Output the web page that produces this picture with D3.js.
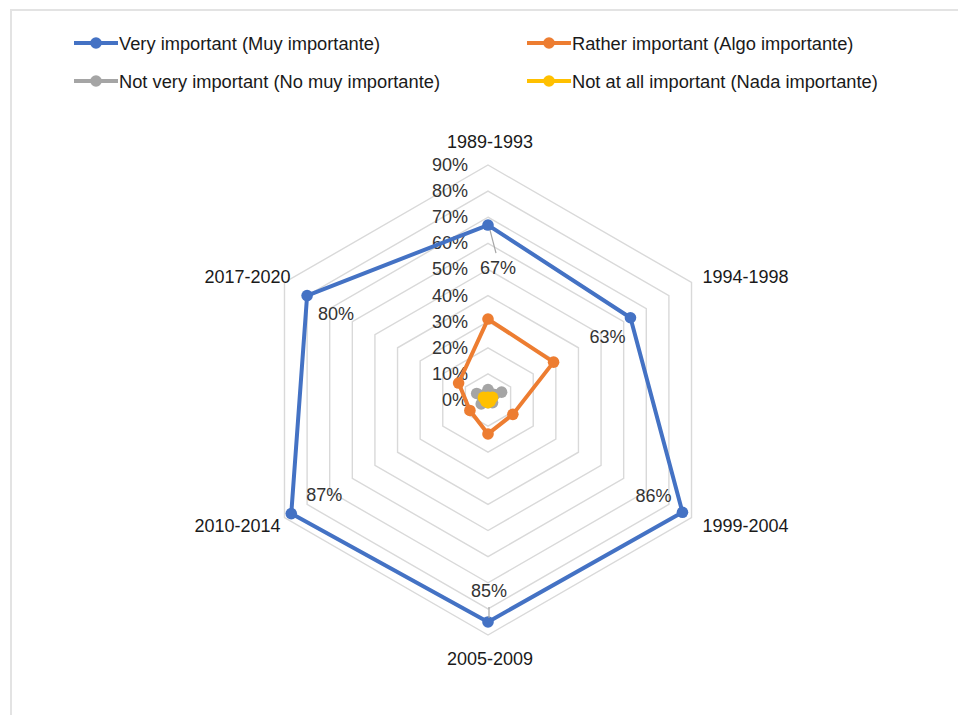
<!DOCTYPE html>
<html>
<head>
<meta charset="utf-8">
<script src="https://cdn.jsdelivr.net/npm/d3@7/dist/d3.min.js"></script>
<style>
  html, body { margin: 0; padding: 0; background: #fff; }
  svg { display: block; font-family: "Liberation Sans", Arial, sans-serif; }
</style>
</head>
<body>
<svg id="chart" width="958" height="715"></svg>
<script>
// ---- data ----
const categories = ["1989-1993", "1994-1998", "1999-2004", "2005-2009", "2010-2014", "2017-2020"];
const seriesNames = [
  "Very important (Muy importante)",
  "Rather important (Algo importante)",
  "Not very important (No muy importante)",
  "Not at all important (Nada importante)"
];
const veryImportant = [67, 63, 86, 85, 87, 80];
const ratherImportant = [31, 29, 11, 13, 8, 13];
const notVeryImportant = [4, 6, 2, 1, 3, 5];
const notAtAllImportant = [1, 2, 1, 1, 1, 2];
const tickValues = [0, 10, 20, 30, 40, 50, 60, 70, 80, 90];
const tickLabels = ["0%", "10%", "20%", "30%", "40%", "50%", "60%", "70%", "80%", "90%"];
const seriesColors = ["#4472C4", "#ED7D31", "#A5A5A5", "#FFC000"];

// ---- layout ----
const svg = d3.select("#chart");
const cx = 488, cy = 400;
const r = d3.scaleLinear().domain([0, 90]).range([0, 235]);
const angle = d3.scaleLinear().domain([0, categories.length]).range([0, 2 * Math.PI]);
const pt = (i, v) => {
  const a = angle(i);
  return [cx + r(v) * Math.sin(a), cy - r(v) * Math.cos(a)];
};

// border
svg.append("path")
  .attr("d", "M11,715 L11,10 L958,10")
  .attr("fill", "none").attr("stroke", "#e3e3e3").attr("stroke-width", 2);

// grid hexagons
const g = svg.append("g");
tickValues.filter(t => t > 0).forEach(t => {
  const pts = categories.map((c, i) => pt(i, t));
  g.append("path")
    .attr("d", d3.line()(pts) + "Z")
    .attr("fill", "none").attr("stroke", "#d9d9d9").attr("stroke-width", 1.4);
});

// tick labels
tickValues.forEach((t, k) => {
  svg.append("text")
    .attr("x", cx - 20).attr("y", cy - r(t))
    .attr("text-anchor", "end").attr("dominant-baseline", "central")
    .attr("font-size", 18).attr("fill", "#333")
    .text(tickLabels[k]);
});

// category labels
const catAnchor = ["middle", "start", "start", "middle", "end", "end"];
const catOffset = [[2, -23], [11, -6], [11, 8], [2, 24], [-4, 8], [6, -6]];
categories.forEach((c, i) => {
  const [x, y] = pt(i, 90);
  svg.append("text")
    .attr("x", x + catOffset[i][0]).attr("y", y + catOffset[i][1])
    .attr("text-anchor", catAnchor[i]).attr("dominant-baseline", "central")
    .attr("font-size", 18).attr("fill", "#1a1a1a")
    .text(c);
});

// series (later series drawn on top)
const allSeries = [veryImportant, ratherImportant, notVeryImportant, notAtAllImportant];
allSeries.forEach((vals, s) => {
  const pts = vals.map((v, i) => pt(i, v));
  const sg = svg.append("g");
  sg.append("path")
    .attr("d", d3.line()(pts) + "Z")
    .attr("fill", "none").attr("stroke", seriesColors[s])
    .attr("stroke-width", 4).attr("stroke-linejoin", "round");
  sg.selectAll("circle").data(pts).join("circle")
    .attr("cx", d => d[0]).attr("cy", d => d[1]).attr("r", 5.8)
    .attr("fill", seriesColors[s]);
});

// data labels for first series
const labelOffset = [[10, 43], [-23, 19], [-29, -16], [1, -31], [33, -19], [29, 18]];
const leader = [true, false, false, true, false, false];
veryImportant.forEach((v, i) => {
  const [x, y] = pt(i, v);
  const lx = x + labelOffset[i][0], ly = y + labelOffset[i][1];
  if (leader[i]) {
    const y2 = ly + (labelOffset[i][1] > 0 ? -15 : 16);
    svg.append("line")
      .attr("x1", x + (labelOffset[i][0] > 5 ? 2 : 1)).attr("y1", y + (labelOffset[i][1] > 0 ? 5 : -4))
      .attr("x2", x + (labelOffset[i][0] > 5 ? 8 : 1)).attr("y2", y2)
      .attr("stroke", "#a6a6a6").attr("stroke-width", 1.2);
  }
  svg.append("text")
    .attr("x", lx).attr("y", ly)
    .attr("text-anchor", "middle").attr("dominant-baseline", "central")
    .attr("font-size", 18).attr("fill", "#333")
    .text(v + "%");
});

// legend
const legendPos = [[74, 43], [527, 43], [74, 81], [527, 81]];
seriesNames.forEach((n, s) => {
  const [x, y] = legendPos[s];
  const lg = svg.append("g");
  lg.append("line").attr("x1", x).attr("x2", x + 44).attr("y1", y).attr("y2", y)
    .attr("stroke", seriesColors[s]).attr("stroke-width", 4);
  lg.append("circle").attr("cx", x + 22).attr("cy", y).attr("r", 5.8).attr("fill", seriesColors[s]);
  lg.append("text").attr("x", x + 45).attr("y", y)
    .attr("dominant-baseline", "central").attr("font-size", 18.3).attr("fill", "#1a1a1a")
    .text(n);
});
</script>
</body>
</html>
